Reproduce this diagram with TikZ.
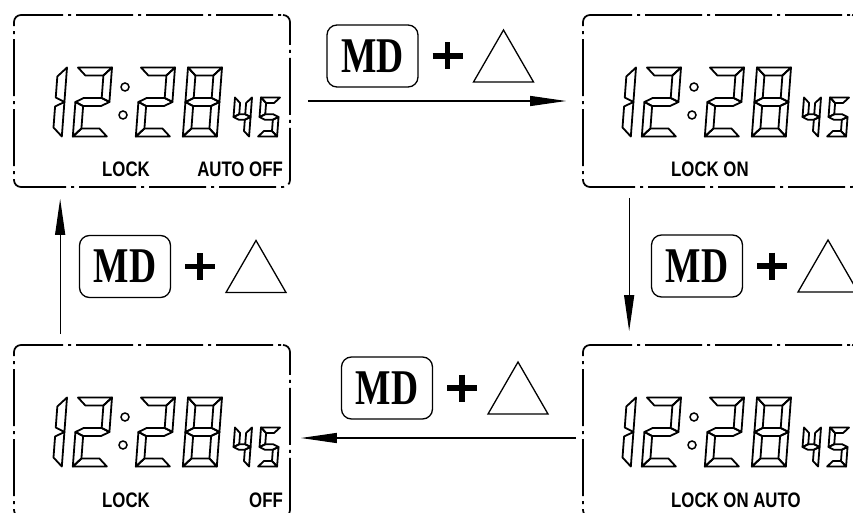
\documentclass[tikz,border=0pt]{standalone}
\usepackage{graphicx}
\usepackage{fontspec}
\setmainfont{Liberation Serif}
\newfontfamily\lcdfont{Liberation Sans}
\usetikzlibrary{arrows.meta}
\tikzset{
  panel/.style={draw, line width=1.7pt, rounded corners=7pt, minimum width=276pt, minimum height=172pt, inner sep=0pt, dash pattern=on 57pt off 5pt on 3pt off 5pt, dash phase=-10pt},
  seg/.style={draw, line width=1.8pt, line join=round},
  conn/.style={line width=1.2pt, -{Triangle[length=36pt,width=10pt]}},
  mdbox/.style={draw, line width=1.3pt, rounded corners=10pt, minimum width=91pt, minimum height=62pt, inner sep=0pt},
  lcdtxt/.style={font=\lcdfont\bfseries\fontsize{21}{21}\selectfont, inner sep=0pt},
  plusbar/.style={line width=5.5pt},
  trishape/.style={draw, line width=1.3pt, line join=miter},
}
\newcommand\segdrawa{\draw[seg] (0,0)--(\dw,0)--(\dw-\dt,\dt)--(\dt,\dt)--cycle;}
\newcommand\segdrawb{\draw[seg] (\dw,0)--(\dw,\dh/2)--(\dw-\dt,\dh/2-\dt/2)--(\dw-\dt,\dt)--cycle;}
\newcommand\segdrawc{\draw[seg] (\dw,\dh/2)--(\dw,\dh)--(\dw-\dt,\dh-\dt)--(\dw-\dt,\dh/2+\dt/2)--cycle;}
\newcommand\segdrawd{\draw[seg] (0,\dh)--(\dw,\dh)--(\dw-\dt,\dh-\dt)--(\dt,\dh-\dt)--cycle;}
\newcommand\segdrawe{\draw[seg] (0,\dh/2)--(0,\dh)--(\dt,\dh-\dt)--(\dt,\dh/2+\dt/2)--cycle;}
\newcommand\segdrawf{\draw[seg] (0,0)--(0,\dh/2)--(\dt,\dh/2-\dt/2)--(\dt,\dt)--cycle;}
\newcommand\segdrawg{\draw[seg] (0,\dh/2)--(\dt,\dh/2-\dt/2)--(\dw-\dt,\dh/2-\dt/2)--(\dw,\dh/2)--(\dw-\dt,\dh/2+\dt/2)--(\dt,\dh/2+\dt/2)--cycle;}
% x, y, w, h, t, segments
\newcommand\lcddigit[6]{%
  \begin{scope}[shift={(#1,#2)}, xslant=0.075]
    \def\dw{#3}\def\dh{#4}\def\dt{#5}%
    \foreach \s in {#6} {\csname segdraw\s\endcsname}
  \end{scope}}
% name, left x, top y, left text, right text
\newcommand\lcdpanel[5]{%
  \node[panel] (#1) at (#2+138,#3+86) {};
  \begin{scope}[shift={(#2,#3)}]
    \lcddigit{44}{52.5}{9}{69}{9}{b,c}
    \lcddigit{64}{52.5}{34}{69}{8}{a,b,g,e,d}
    \draw[line width=1.5pt] (111,72) circle (4pt) (109,100) circle (4pt);
    \lcddigit{127}{52.5}{34}{69}{8}{a,b,g,e,d}
    \lcddigit{174}{52.5}{34}{69}{8}{a,b,c,d,e,f,g}
    \lcddigit{221}{82.5}{17}{39}{5.5}{f,g,b,c}
    \lcddigit{247}{82.5}{19}{39}{5.5}{a,f,g,c,d}
    \node[lcdtxt, anchor=base west] (#1l) at (88,162) {\scalebox{0.8}[1]{#4}};
    \node[lcdtxt, anchor=base east] (#1r) at (269,162) {\scalebox{0.8}[1]{#5}};
  \end{scope}}
% name, x, y (centre of MD box)
\newcommand\keycombo[3]{%
  \node[mdbox] (#1) at (#2,#3) {\scalebox{0.75}[1]{\fontsize{50}{50}\selectfont\bfseries MD}};
  \coordinate (#1p) at (#2+75,#3);
  \draw[plusbar] ([xshift=-15pt]#1p) -- ([xshift=15pt]#1p) ([yshift=13.5pt]#1p) -- ([yshift=-13.5pt]#1p);
  \coordinate (#1t) at (#2+131,#3);
  \draw[trishape] (#2+131,#3-26) -- (#2+101,#3+26) -- (#2+161,#3+26) -- cycle;
}
\begin{document}
\begin{tikzpicture}[x=1pt, y=-1pt]
\useasboundingbox (0,0) rectangle (853,513);
\clip (0,0) rectangle (853,513);
\fill[white] (0,0) rectangle (853,513);
\lcdpanel{p1}{14}{15}{LOCK}{AUTO OFF}
\lcdpanel{p2}{583}{15}{LOCK ON}{}
\lcdpanel{p3}{583}{345}{LOCK ON AUTO}{}
\lcdpanel{p4}{14}{345}{LOCK}{OFF}
\keycombo{k1}{372.5}{56}
\keycombo{k2}{125}{266.5}
\keycombo{k3}{697}{266}
\keycombo{k4}{387}{388}
\draw[conn, shorten <=17pt, shorten >=16pt] (p1.east) -- (p2.west);
\draw[conn, shorten <=10pt, shorten >=13pt] ([xshift=47pt]p2.south west) -- ([xshift=47pt]p3.north west);
\draw[conn, shorten <=6pt, shorten >=10pt] ([yshift=-7pt]p3.west) -- ([yshift=-7pt]p4.east);
\draw[conn, shorten <=10pt, shorten >=11pt] ([xshift=47pt]p4.north west) -- ([xshift=47pt]p1.south west);
\end{tikzpicture}
\end{document}
